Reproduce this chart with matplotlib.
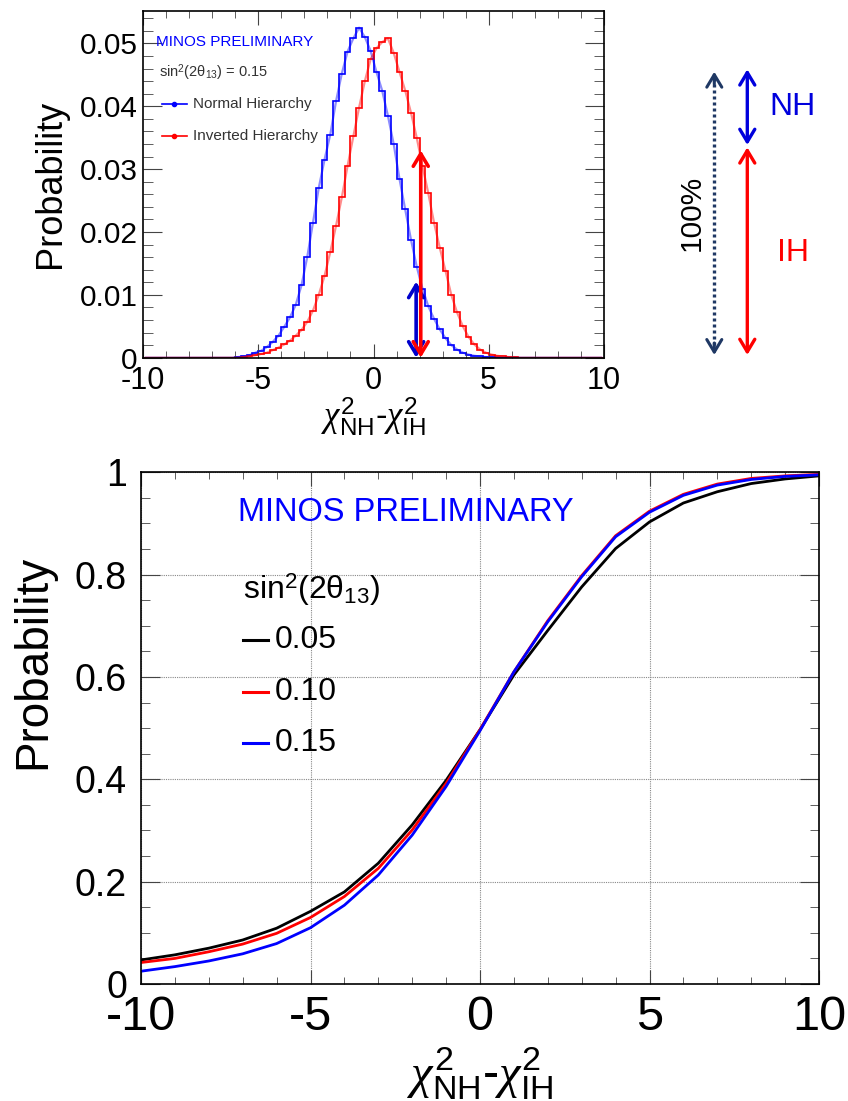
import numpy as np
import matplotlib
matplotlib.use("Agg")
import matplotlib.pyplot as plt
from matplotlib.ticker import MultipleLocator
from matplotlib.patches import FancyArrowPatch
from matplotlib.lines import Line2D

plt.rcParams['font.family'] = ['Liberation Sans', 'DejaVu Sans']
plt.rcParams['mathtext.fontset'] = 'custom'
plt.rcParams['mathtext.rm'] = 'Liberation Sans'
plt.rcParams['mathtext.it'] = 'Liberation Serif:italic'
plt.rcParams['mathtext.bf'] = 'Liberation Sans:bold'
plt.rcParams['axes.linewidth'] = 1.2

# ---- upper panel: distributions of chi2(NH) - chi2(IH), 80 bins of 0.25 ----
bin_edges = np.linspace(-10, 10, 81)
nh_prob = [0.0] * 15 + [
    0.0000, 0.0001, 0.0002, 0.0004, 0.0008, 0.0011, 0.0017, 0.0025, 0.0035, 0.0049,
    0.0064, 0.0084, 0.0115, 0.0160, 0.0215, 0.0270, 0.0315, 0.0355, 0.0408, 0.0452,
    0.0487, 0.0508, 0.0525, 0.0510, 0.0488, 0.0455, 0.0425, 0.0385, 0.0340, 0.0285,
    0.0236, 0.0188, 0.0145, 0.0110, 0.0082, 0.0062, 0.0045, 0.0031, 0.0020, 0.0013,
    0.0008, 0.0005, 0.0003, 0.0002, 0.0001, 0.0001] + [0.0] * 19
ih_prob = [0.0] * 17 + [
    0.0001, 0.0002, 0.0004, 0.0006, 0.0008, 0.0012, 0.0016, 0.0021, 0.0027, 0.0035,
    0.0044, 0.0057, 0.0075, 0.0100, 0.0130, 0.0168, 0.0210, 0.0255, 0.0305, 0.0352,
    0.0398, 0.0440, 0.0475, 0.0492, 0.0502, 0.0508, 0.0485, 0.0455, 0.0425, 0.0390,
    0.0350, 0.0305, 0.0262, 0.0215, 0.0175, 0.0138, 0.0100, 0.0072, 0.0050, 0.0033,
    0.0021, 0.0013, 0.0008, 0.0005, 0.0003, 0.0002, 0.0001, 0.0001] + [0.0] * 15

# observed value markers
nh_cut_x, nh_cut_height = 1.85, 0.0121
ih_cut_x, ih_cut_height = 2.05, 0.0330

# ---- lower panel: cumulative probability vs chi2(NH) - chi2(IH) ----
cum_x = [-10, -9, -8, -7, -6, -5, -4, -3, -2, -1, 0, 1, 2, 3, 4, 5, 6, 7, 8, 9, 10]
cum_005 = [0.047, 0.057, 0.070, 0.086, 0.109, 0.142, 0.180, 0.236, 0.311, 0.398, 0.497,
           0.604, 0.691, 0.776, 0.851, 0.903, 0.940, 0.962, 0.978, 0.987, 0.993]
cum_010 = [0.042, 0.050, 0.063, 0.078, 0.099, 0.130, 0.171, 0.226, 0.301, 0.392, 0.497,
           0.610, 0.710, 0.798, 0.876, 0.924, 0.957, 0.977, 0.988, 0.993, 0.996]
cum_015 = [0.025, 0.034, 0.045, 0.059, 0.079, 0.110, 0.154, 0.213, 0.291, 0.386, 0.495,
           0.610, 0.708, 0.796, 0.874, 0.922, 0.955, 0.975, 0.986, 0.992, 0.995]
theta_labels = ['0.05', '0.10', '0.15']
theta_colors = ['black', '#ff0000', '#0000ff']

W, H = 848, 1101
fig = plt.figure(figsize=(W / 100, H / 100), dpi=100)


def fx(px):
    return px / W


def fy(py):
    return 1 - py / H


BLUE = '#0000ff'
RED = '#ff0000'
xlab = r'$\chi^{\mathrm{2}}_{\mathrm{NH}}$-$\chi^{\mathrm{2}}_{\mathrm{IH}}$'
sin_lab = r'sin$^{\mathrm{2}}$(2$\mathrm{\theta}_{\mathrm{13}}$)'

# ================= upper panel =================
ax1 = fig.add_axes([fx(143), fy(357.7), fx(604) - fx(143), fy(10.7) - fy(357.7)])
centers = 0.5 * (bin_edges[:-1] + bin_edges[1:])
ax1.stairs(nh_prob, bin_edges, color=BLUE, lw=1.2)
ax1.plot(centers, nh_prob, color=BLUE, lw=1.6, alpha=0.45)
ax1.stairs(ih_prob, bin_edges, color=RED, lw=1.2)
ax1.plot(centers, ih_prob, color=RED, lw=1.6, alpha=0.45)

arrow_kw = dict(arrowstyle='<->,head_length=0.45,head_width=0.27', lw=2.6,
                shrinkA=0, shrinkB=0, mutation_scale=20)
ax1.annotate('', xy=(nh_cut_x, nh_cut_height), xytext=(nh_cut_x, 0),
             arrowprops=dict(color='#0000cc', **arrow_kw))
ax1.annotate('', xy=(ih_cut_x, ih_cut_height), xytext=(ih_cut_x, 0),
             arrowprops=dict(color=RED, **arrow_kw))

ax1.set_xlim(-10, 10)
ax1.set_ylim(0, 0.0552)
ax1.xaxis.set_minor_locator(MultipleLocator(1))
ax1.yaxis.set_minor_locator(MultipleLocator(0.002))
ax1.set_yticks([0, 0.01, 0.02, 0.03, 0.04, 0.05])
ax1.set_yticklabels(['0', '0.01', '0.02', '0.03', '0.04', '0.05'])
ax1.set_xticks([-10, -5, 0, 5, 10])
ax1.set_xticklabels(['-10', '-5', '0', '5', '10'])
ax1.tick_params(which='both', direction='in', top=True, right=True, color='#444444')
ax1.tick_params(axis='x', which='major', length=10, labelsize=22, pad=6)
ax1.tick_params(axis='x', which='minor', length=5)
ax1.tick_params(axis='y', which='major', length=14, labelsize=21.5, pad=4)
ax1.tick_params(axis='y', which='minor', length=7)
ax1.set_ylabel('Probability', fontsize=26)
ax1.yaxis.set_label_coords(-0.163, 0.502)
ax1.set_xlabel(xlab, fontsize=25)
ax1.xaxis.set_label_coords(0.5, -0.11)

# legend block of the upper panel
ax1.text(0.028, 0.911, 'MINOS PRELIMINARY', color=BLUE, fontsize=11,
         transform=ax1.transAxes, va='center', ha='left')
ax1.text(0.035, 0.823, sin_lab + ' = 0.15', color='#333333',
         fontsize=10.5, transform=ax1.transAxes, va='center', ha='left')
for yy, col, name in [(0.731, BLUE, 'Normal Hierarchy'),
                      (0.639, RED, 'Inverted Hierarchy')]:
    ax1.add_line(Line2D([0.041, 0.095], [yy, yy], color=col, lw=1.2,
                        transform=ax1.transAxes))
    ax1.plot([0.068], [yy], 'o', ms=3, color=col, transform=ax1.transAxes)
    ax1.text(0.108, yy, name, color='#333333', fontsize=11,
             transform=ax1.transAxes, va='center', ha='left')

# ================= side diagram =================
NAVY = '#1f3864'
head = 'head_length=0.45,head_width=0.27'
fig.add_artist(Line2D([fx(714.3), fx(714.3)], [fy(78), fy(349)], color=NAVY,
                      lw=2.4, linestyle=(0, (0.9, 0.9)), transform=fig.transFigure))
for y_tip, y_tail in [(71.7, 84), (355, 343)]:
    fig.add_artist(FancyArrowPatch((fx(714.3), fy(y_tail)), (fx(714.3), fy(y_tip)),
                                   arrowstyle='->,' + head, mutation_scale=20,
                                   color=NAVY, lw=2.2, shrinkA=0, shrinkB=0,
                                   transform=fig.transFigure))
fig.add_artist(FancyArrowPatch((fx(747.3), fy(145)), (fx(747.3), fy(69.3)),
                               arrowstyle='<->,' + head, mutation_scale=20,
                               color='#0000dd', lw=2.4, shrinkA=0, shrinkB=0,
                               transform=fig.transFigure))
fig.add_artist(FancyArrowPatch((fx(747.3), fy(355)), (fx(747.3), fy(147.3)),
                               arrowstyle='<->,' + head, mutation_scale=20,
                               color=RED, lw=2.4, shrinkA=0, shrinkB=0,
                               transform=fig.transFigure))
fig.text(fx(793), fy(106.7), 'NH', color='#0000dd', fontsize=23, ha='center', va='center')
fig.text(fx(793), fy(253), 'IH', color=RED, fontsize=23, ha='center', va='center')
fig.text(fx(691.7), fy(213), '100%', color='black', fontsize=21.5, rotation=90,
         ha='center', va='center')

# ================= lower panel =================
ax2 = fig.add_axes([fx(141), fy(984), fx(819) - fx(141), fy(472.3) - fy(984)])
for vals, col in zip([cum_005, cum_010, cum_015], theta_colors):
    ax2.plot(cum_x, vals, color=col, lw=2.0)

ax2.set_xlim(-10, 10)
ax2.set_ylim(0, 1)
ax2.set_xticks([-10, -5, 0, 5, 10])
ax2.set_xticklabels(['-10', '-5', '0', '5', '10'])
ax2.set_yticks([0, 0.2, 0.4, 0.6, 0.8, 1.0])
ax2.set_yticklabels(['0', '0.2', '0.4', '0.6', '0.8', '1'])
ax2.xaxis.set_minor_locator(MultipleLocator(1))
ax2.yaxis.set_minor_locator(MultipleLocator(0.05))
ax2.grid(True, which='major', color='#888888', linestyle=(0, (1, 1)), lw=0.8)
ax2.tick_params(which='both', direction='in', top=True, right=True, color='#444444')
ax2.tick_params(axis='x', which='major', length=10, labelsize=35, pad=8)
ax2.tick_params(axis='x', which='minor', length=5)
ax2.tick_params(axis='y', which='major', length=14, labelsize=27, pad=10)
ax2.tick_params(axis='y', which='minor', length=6.5)
ax2.set_ylabel('Probability', fontsize=33)
ax2.yaxis.set_label_coords(-0.127, 0.629)
ax2.set_xlabel(xlab, fontsize=35)
ax2.xaxis.set_label_coords(0.5, -0.12)

ax2.text(0.143, 0.922, 'MINOS PRELIMINARY', color=BLUE, fontsize=23.5,
         transform=ax2.transAxes, va='center', ha='left')
ax2.text(0.150, 0.770, sin_lab, color='black', fontsize=23,
         transform=ax2.transAxes, va='center', ha='left')
for yy, col, lab in zip([0.672, 0.571, 0.471], theta_colors, theta_labels):
    ax2.add_line(Line2D([0.150, 0.187], [yy, yy], color=col, lw=2.2,
                        transform=ax2.transAxes))
    ax2.text(0.198, yy, lab, color='black', fontsize=23,
             transform=ax2.transAxes, va='center', ha='left')

fig.savefig('out.png', dpi=100)
